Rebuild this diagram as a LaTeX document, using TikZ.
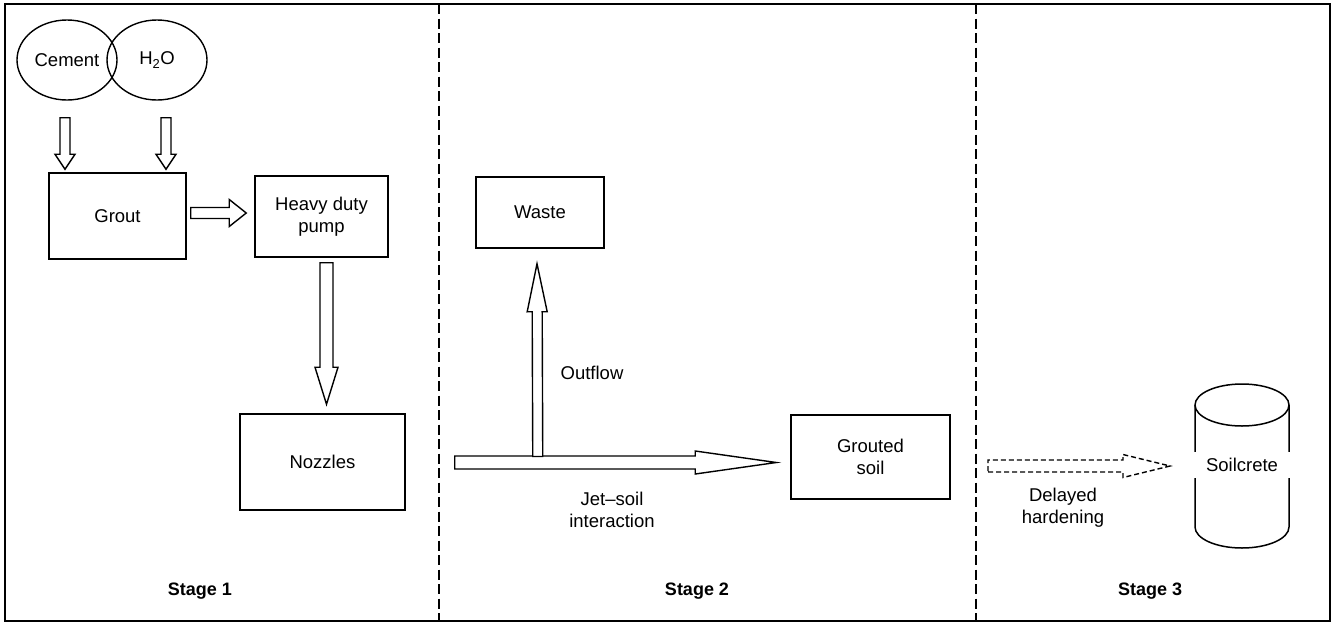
\documentclass[tikz,border=0pt]{standalone}
\usepackage{fontspec}
\setmainfont{Liberation Sans}
\usetikzlibrary{calc,shapes.geometric}

% Hollow block arrow from #2 to #3: shaft half width #4, head half width #5, head length #6
\newcommand\blockarrow[6][]{%
  \path[blockarr,#1] let \p1=(#2), \p2=(#3),
    \n1={atan2(\y2-\y1,\x2-\x1)}, \n2={veclen(\x2-\x1,\y2-\y1)} in
    [shift={(\p1)}, rotate=\n1]
    (0,#4) -- (\n2-#6,#4) -- (\n2-#6,#5) -- (\n2,0) -- (\n2-#6,-#5)
    -- (\n2-#6,-#4) -- (0,-#4) -- cycle;}

\begin{document}
\begin{tikzpicture}[x=1pt,y=-1pt,
  every node/.style={font=\fontsize{18.5}{22}\selectfont, align=center, inner sep=0pt},
  box/.style={draw, line width=1.5pt},
  blob/.style={draw, ellipse, line width=1.4pt, minimum width=100pt, minimum height=80pt},
  blockarr/.style={draw, line width=1.4pt, fill=white, line join=miter},
  delayed/.style={fill=none, line width=1.4pt, dash pattern=on 5pt off 3pt},
  stagelabel/.style={font=\fontsize{18}{22}\selectfont\bfseries},
  divider/.style={line width=1.8pt, dash pattern=on 10pt off 4.5pt},
  frame/.style={line width=1.6pt}]

\useasboundingbox (0,0) rectangle (1337,624);

% outer frame and stage dividers
\draw[frame] (5,4) rectangle (1330,621);
\draw[divider] (439,4) -- (439,621);
\draw[divider] (976,4) -- (976,621);

% stage 1
\node[blob] (cement) at (67,60) {Cement};
\node[blob] (h2o) at (157,60) {H\textsubscript{2}O};
\node[box, minimum width=137pt, minimum height=86pt] (grout) at (117.5,216) {Grout};
\node[box, minimum width=133pt, minimum height=81pt] (pump) at (321.5,216.5) {Heavy duty\\pump};
\node[box, minimum width=165pt, minimum height=96pt] (nozzles) at (322.5,462) {Nozzles};

% stage 2
\node[box, minimum width=128pt, minimum height=71pt] (waste) at (540,212.5) {Waste};
\node[box, minimum width=159pt, minimum height=84pt] (grouted) at (870.5,457) {Grouted\\soil};
\node (outflow) at (592,373) {Outflow};
\node (jetlabel) at (612,510) {Jet--soil\\interaction};

% stage 3: soilcrete cylinder
\draw[box] (1242,405) ellipse [x radius=47, y radius=21];
\draw[box] (1195,405) -- (1195,527) arc[start angle=180, end angle=0, x radius=47, y radius=21] -- (1289,405);
\node[fill=white, minimum width=104pt, minimum height=26pt] (soilcrete) at (1242,465) {Soilcrete};
\node (delaylabel) at (1063,508) {Delayed\\hardening};

% stage labels
\node[stagelabel] (s1) at (200,591) {Stage 1};
\node[stagelabel] (s2) at (697,591) {Stage 2};
\node[stagelabel] (s3) at (1150,591) {Stage 3};

% arrow end points
\coordinate (a1s) at ($(cement.south)+(-2,17)$);
\coordinate (a1e) at ($(grout.north)+(-52.5,-3)$);
\coordinate (a2s) at ($(h2o.south)+(9,17)$);
\coordinate (a2e) at ($(grout.north)+(48.5,-3)$);
\coordinate (a3s) at ($(grout.east)+(4,-3)$);
\coordinate (a3e) at ($(pump.west)+(-8,-3.5)$);
\coordinate (a4s) at ($(pump.south)+(5,5)$);
\coordinate (a4e) at ($(nozzles.north)+(4,-9)$);
\coordinate (jets) at ($(nozzles.east)+(49,0.5)$);
\coordinate (jete) at ($(grouted.west)+(-14,5.5)$);
\coordinate (outs) at ($(jets)+(83,-6)$);
\coordinate (oute) at ($(waste.south)+(-3,15)$);
\coordinate (dels) at ($(soilcrete.center)+(-254,1)$);
\coordinate (dele) at ($(soilcrete.center)+(-72,1)$);

% flows
\blockarrow{a1s}{a1e}{5}{10}{15}
\blockarrow{a2s}{a2e}{5}{10}{15}
\blockarrow{a3s}{a3e}{5.5}{13.5}{17}
\blockarrow{a4s}{a4e}{6.5}{11.5}{37}
\blockarrow{jets}{jete}{6.5}{11.5}{81}
\blockarrow{outs}{oute}{5}{10}{48}
\blockarrow[delayed]{dels}{dele}{6}{11.5}{47}

\end{tikzpicture}
\end{document}
